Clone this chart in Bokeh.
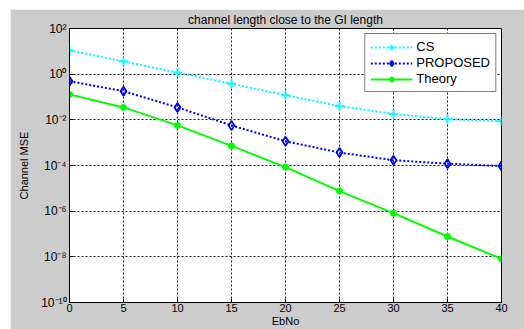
from bokeh.plotting import figure
from bokeh.models import FixedTicker, Spacer
from bokeh.layouts import column, row
from bokeh.embed import file_html
from bokeh.resources import INLINE

ebno = [0, 5, 10, 15, 20, 25, 30, 35, 40]
cs = [11, 3.6, 1.17, 0.38, 0.12, 0.04, 0.018, 0.0107, 0.0087]
proposed = [0.49, 0.18, 0.035, 0.0057, 0.00115, 3.7e-4, 1.7e-4, 1.2e-4, 9.5e-5]
theory = [0.13, 0.035, 0.0057, 7.2e-4, 8.5e-5, 7.6e-6, 8.2e-7, 7.8e-8, 8.1e-9]

xticks = [0, 5, 10, 15, 20, 25, 30, 35, 40]
yticks = [1e-10, 1e-8, 1e-6, 1e-4, 1e-2, 1e0, 1e2]
ytick_labels = ["10⁻¹⁰", "10⁻⁸", "10⁻⁶", "10⁻⁴", "10⁻²", "10⁰", "10²"]

FONT = "Liberation Sans"
GRAY = "#cccccc"

p = figure(width=514, height=320, y_axis_type="log",
           x_range=(0, 40), y_range=(1e-10, 1e2),
           output_backend="svg", toolbar_location=None,
           min_border_left=59, min_border_right=23,
           min_border_top=0, min_border_bottom=0,
           background_fill_color="white", border_fill_color=GRAY,
           outline_line_color="black")

p.title.text = "channel length close to the GI length"
p.title.align = "center"
p.title.text_font = FONT
p.title.text_font_size = "12px"
p.title.text_font_style = "normal"
p.title.text_color = "black"
p.title.standoff = 3
p.title.offset = 0

p.xaxis.ticker = FixedTicker(ticks=xticks, minor_ticks=[])
p.yaxis.ticker = FixedTicker(ticks=yticks, minor_ticks=[])
p.yaxis.major_label_overrides = dict(zip(yticks, ytick_labels))
p.xaxis.axis_label = "EbNo"
p.yaxis.axis_label = "Channel MSE"

for ax in (p.xaxis[0], p.yaxis[0]):
    ax.major_tick_in = 4
    ax.major_tick_out = 0
    ax.minor_tick_in = 0
    ax.minor_tick_out = 0
    ax.axis_line_color = "black"
    ax.major_tick_line_color = "black"
    ax.major_label_text_font = FONT
    ax.major_label_text_font_size = "12px"
    ax.major_label_text_color = "black"
    ax.axis_label_text_font = FONT
    ax.axis_label_text_font_size = "11px"
    ax.axis_label_text_font_style = "normal"
    ax.axis_label_text_color = "black"
    ax.major_label_standoff = 3

p.xaxis.major_label_text_font_size = "11px"
p.xaxis.major_label_standoff = 1
p.xaxis.axis_label_standoff = 0
p.yaxis.axis_label_standoff = 8

for g in (p.xgrid[0], p.ygrid[0]):
    g.grid_line_color = "black"
    g.grid_line_dash = "2 2"
    g.grid_line_width = 1
    g.grid_line_alpha = 0.9

p.line(ebno, cs, color="#00ffff", line_width=2, line_dash="2 2", legend_label="CS")
p.scatter(ebno, cs, marker="cross", size=9, line_color="#00ffff", line_width=2, legend_label="CS")

p.line(ebno, proposed, color="#0000ff", line_width=2, line_dash="2 2", legend_label="PROPOSED")
p.scatter(ebno, proposed, marker="diamond", size=9, line_color="#0000ff",
          fill_alpha=0, line_width=1.8, legend_label="PROPOSED")

p.line(ebno, theory, color="#00ff00", line_width=2, legend_label="Theory")
p.scatter(ebno, theory, marker="asterisk", size=7, line_color="#00ff00", line_width=2.2,
          legend_label="Theory")

lg = p.legend[0]
lg.location = "top_right"
lg.margin = 5
lg.border_line_color = "black"
lg.border_line_width = 1
lg.background_fill_color = "white"
lg.background_fill_alpha = 1
lg.label_text_font = FONT
lg.label_text_font_size = "13px"
lg.label_text_color = "black"
lg.glyph_width = 42
lg.glyph_height = 14
lg.label_height = 14
lg.spacing = 1
lg.padding = 5
lg.label_standoff = 4

layout = column(Spacer(width=524, height=9), row(Spacer(width=10, height=320), p))
open("out.html", "w").write(file_html(layout, INLINE))
